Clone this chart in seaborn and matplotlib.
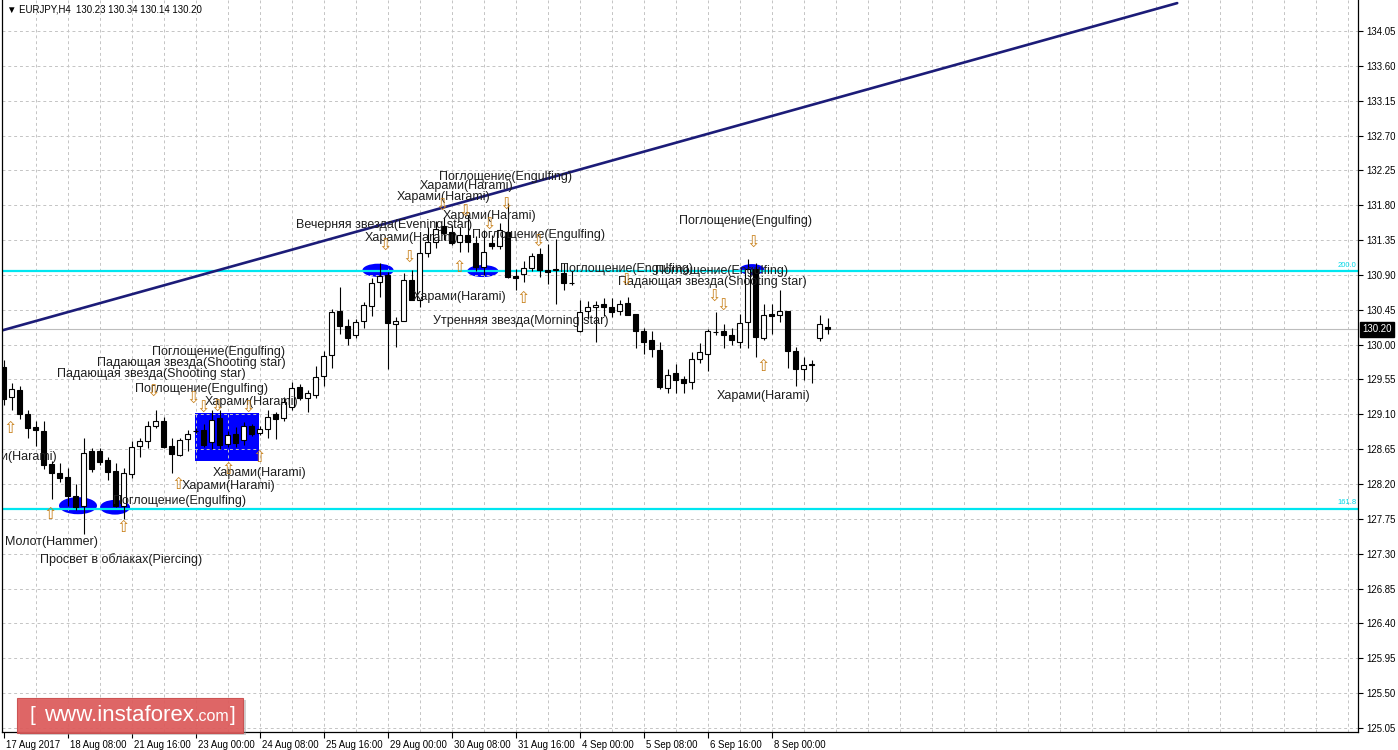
import numpy as np
import pandas as pd
import matplotlib
matplotlib.use("Agg")
import matplotlib.pyplot as plt
import matplotlib.transforms as mtransforms
from matplotlib.patches import Ellipse, Rectangle, FancyBboxPatch
import seaborn as sns

# ---------------- data ----------------
opens = [129.71,129.32,129.42,129.11,128.94,128.89,128.46,128.34,128.29,128.05,
         127.91,128.62,128.63,128.51,128.37,127.91,128.33,128.69,128.75,128.95,
         129.01,128.69,128.58,128.78,128.89,128.90,128.74,129.05,128.72,128.85,
         128.77,128.95,128.86,128.91,129.10,129.05,129.20,129.45,129.31,129.35,
         129.60,129.86,130.43,130.24,130.13,130.31,130.50,130.81,130.90,130.27,
         130.31,130.83,130.57,131.18,131.33,131.53,131.45,131.32,131.42,131.31,
         131.00,131.31,131.27,131.46,130.88,130.91,130.99,131.17,130.97,130.96,
         130.92,130.80,130.17,130.44,130.49,130.52,130.48,130.44,130.54,130.39,
         130.18,130.06,129.93,129.44,129.63,129.55,129.52,129.82,129.88,130.16,
         130.18,130.13,130.03,130.29,130.98,130.09,130.39,130.38,130.44,129.92,
         129.69,129.74,130.09,130.23]
highs = [129.80,129.50,129.47,129.15,129.02,129.02,128.50,128.47,128.41,128.20,
         128.80,128.67,128.66,128.55,128.47,128.41,128.75,128.80,129.02,129.15,
         129.06,128.80,128.80,128.90,128.92,128.98,129.16,129.16,128.88,128.93,
         129.00,128.98,128.95,129.16,129.13,129.33,129.52,129.49,129.41,129.72,
         129.92,130.46,130.75,130.33,130.33,130.55,130.86,131.05,130.94,130.36,
         130.92,130.96,131.35,131.52,131.59,131.65,131.55,131.52,131.67,131.40,
         131.48,131.42,131.57,131.83,130.98,131.08,131.18,131.25,131.30,131.37,
         131.05,130.95,130.57,130.56,130.56,130.60,130.60,130.57,130.61,130.40,
         130.22,130.17,130.04,129.68,129.75,129.60,129.91,130.02,130.20,130.42,
         130.27,130.21,130.40,131.10,131.06,130.53,130.53,130.70,130.44,129.97,
         129.84,129.80,130.38,130.34]
lows = [129.22,129.15,129.04,128.80,128.69,128.40,128.01,128.22,127.92,127.87,
        127.56,128.35,128.45,128.25,127.90,127.75,128.28,128.55,128.66,128.92,
        128.66,128.34,128.56,128.62,128.86,128.68,128.65,128.65,128.68,128.68,
        128.70,128.82,128.83,128.80,128.78,129.01,129.16,129.29,129.13,129.31,
        129.47,129.70,130.14,130.00,130.08,130.22,130.37,130.62,129.69,129.97,
        130.31,130.57,130.48,131.13,131.25,131.35,131.28,131.20,131.20,130.95,
        130.90,131.23,131.23,130.86,130.71,130.81,130.95,130.87,130.78,130.53,
        130.70,130.77,130.16,130.33,130.04,130.37,130.36,130.38,130.38,129.95,
        129.88,129.84,129.43,129.38,129.37,129.37,129.43,129.76,129.66,130.12,
        129.96,129.99,129.96,129.95,129.84,130.06,130.14,130.29,129.70,129.46,
        129.54,129.50,130.05,130.14]
closes = [129.30,129.43,129.10,128.92,128.90,128.45,128.34,128.28,128.05,127.90,
          128.60,128.40,128.48,128.35,127.91,128.34,128.68,128.75,128.95,129.02,
          128.68,128.59,128.77,128.85,128.88,128.71,129.03,128.70,128.83,128.73,
          128.95,128.85,128.91,129.07,129.04,129.26,129.44,129.31,129.37,129.58,
          129.85,130.42,130.24,130.08,130.29,130.51,130.80,130.88,130.28,130.31,
          130.84,130.58,131.18,131.33,131.49,131.44,131.31,131.42,131.32,131.00,
          131.20,131.27,131.48,130.87,130.86,130.99,131.15,130.97,130.94,130.98,
          130.79,130.79,130.42,130.49,130.51,130.49,130.42,130.53,130.38,130.18,
          130.03,129.94,129.45,129.61,129.54,129.50,129.82,129.91,130.17,130.16,
          130.13,130.06,130.28,130.98,130.10,130.38,130.37,130.44,129.92,129.69,
          129.74,129.74,130.26,130.20]

x_tick_bars = [0, 8, 16, 24, 32, 40, 48, 56, 64, 72, 80, 88, 96]
x_tick_labels = ['17 Aug 2017', '18 Aug 08:00', '21 Aug 16:00', '23 Aug 00:00',
                 '24 Aug 08:00', '25 Aug 16:00', '29 Aug 00:00', '30 Aug 08:00',
                 '31 Aug 16:00', '4 Sep 00:00', '5 Sep 08:00', '6 Sep 16:00',
                 '8 Sep 00:00']
price_ticks = [125.05, 125.50, 125.95, 126.40, 126.85, 127.30, 127.75, 128.20,
               128.65, 129.10, 129.55, 130.00, 130.45, 130.90, 131.35, 131.80,
               132.25, 132.70, 133.15, 133.60, 134.05]

header = "\u25BC EURJPY,H4  130.23 130.34 130.14 130.20"
last_price = 130.20
fib_levels = [130.95, 127.88]
fib_names = ['200.0', '161.8']
trend_bars = [-0.45, 146.7]
trend_prices = [130.176, 134.41]

# pattern labels: (bar, price, text)
pattern_labels = [
    (54.4, 132.16, 'Поглощение(Engulfing)'),
    (52.05, 132.05, 'Харами(Harami)'),
    (49.2, 131.91, 'Харами(Harami)'),
    (54.9, 131.66, 'Харами(Harami)'),
    (36.55, 131.545, 'Вечерняя звезда(Evening star)'),
    (45.2, 131.38, 'Харами(Harami)'),
    (58.55, 131.42, 'Поглощение(Engulfing)'),
    (84.4, 131.60, 'Поглощение(Engulfing)'),
    (69.55, 130.98, 'Поглощение(Engulfing)'),
    (81.4, 130.95, 'Поглощение(Engulfing)'),
    (76.8, 130.81, 'Падающая звезда(Shooting star)'),
    (51.2, 130.615, 'Харами(Harami)'),
    (53.7, 130.305, 'Утренняя звезда(Morning star)'),
    (89.2, 129.34, 'Харами(Harami)'),
    (18.55, 129.905, 'Поглощение(Engulfing)'),
    (11.7, 129.76, 'Падающая звезда(Shooting star)'),
    (6.68, 129.62, 'Падающая звезда(Shooting star)'),
    (16.43, 129.43, 'Поглощение(Engulfing)'),
    (25.18, 129.26, 'Харами(Harami)'),
    (-4.95, 128.55, 'Харами(Harami)'),
    (26.18, 128.34, 'Харами(Harami)'),
    (22.3, 128.17, 'Харами(Harami)'),
    (13.7, 127.98, 'Поглощение(Engulfing)'),
    (0.18, 127.45, 'Молот(Hammer)'),
    (4.55, 127.23, 'Просвет в облаках(Piercing)'),
]
up_arrow_bars = [0.8, 5.8, 14.9, 21.8, 28.05, 31.9, 56.9, 64.9, 94.9]
up_arrow_prices = [128.92, 127.81, 127.645, 128.19, 128.39, 128.54, 131.00, 130.60, 129.72]
down_arrow_bars = [18.7, 23.7, 24.9, 26.7, 30.55, 47.7, 50.7, 54.8, 57.7, 60.7, 62.8,
                   66.8, 77.8, 88.8, 89.9, 93.7]
down_arrow_prices = [129.39, 129.30, 129.18, 129.19, 129.18, 131.27, 131.12, 131.78,
                     131.71, 131.545, 131.80, 131.325, 130.82, 130.615, 130.49, 131.31]

# highlight ellipses: (bar, price, width_bars, height_price)
ellipse_bars = [9.3, 13.93, 46.8, 59.9, 93.55]
ellipse_prices = [127.92, 127.90, 130.96, 130.95, 130.97]
ellipse_w = [4.75, 3.75, 3.9, 3.9, 3.1]
ellipse_h = [0.22, 0.19, 0.17, 0.155, 0.14]
rect_bars = [23.9, 31.9]
rect_prices = [128.50, 129.12]

# ---------------- style ----------------
sns.set_theme(style="white")
plt.rcParams['font.family'] = ['Liberation Sans', 'DejaVu Sans']

W, H = 1398, 750
fig = plt.figure(figsize=(W / 100, H / 100), dpi=100)
fig.patch.set_facecolor('white')
ax = fig.add_axes([2 / W, 18 / H, 1356 / W, 732 / H])
ax.set_facecolor('white')
ax.set_xlim(-0.2, 169.3)
ax.set_ylim(124.998, 134.45)

df = pd.DataFrame({'bar': np.arange(len(opens)), 'open': opens, 'high': highs,
                   'low': lows, 'close': closes})

grid_kw = dict(color='#c4c4c4', lw=0.7, dashes=(3, 3), zorder=1)
for p in price_ticks:
    ax.axhline(p, **grid_kw)
for b in range(4, 170, 4):
    ax.axvline(b, **grid_kw)

# highlight shapes
ax.add_patch(Rectangle((rect_bars[0], rect_prices[0]), rect_bars[1] - rect_bars[0],
                       rect_prices[1] - rect_prices[0], facecolor='#0000ff',
                       edgecolor='none', zorder=0.8))
for b, p, w, h in zip(ellipse_bars, ellipse_prices, ellipse_w, ellipse_h):
    ax.add_patch(Ellipse((b, p), w, h, facecolor='#0000ff', edgecolor='none', zorder=0.8))

# fib levels & price line
for lv, nm in zip(fib_levels, fib_names):
    ax.axhline(lv, color='#00e6f0', lw=1.6, zorder=2)
    ax.text(169.1, lv + 0.03, nm, color='#00d8e8', fontsize=5.5, ha='right',
            va='bottom', zorder=2)
ax.axhline(last_price, color='#bdbdbd', lw=0.8, zorder=1.5)

# trend line
sns.lineplot(x=trend_bars, y=trend_prices, ax=ax, color='#1c1c78', lw=1.9, zorder=2.5)

# candles
ax.vlines(df['bar'], df['low'], df['high'], color='black', lw=0.8, zorder=3)
bull = df['close'] >= df['open']
body_bottom = np.minimum(df['open'], df['close'])
body_h = np.maximum((df['close'] - df['open']).abs(), 0.004)
ax.bar(df['bar'][bull], body_h[bull], bottom=body_bottom[bull], width=0.62,
       color='white', edgecolor='black', linewidth=0.8, zorder=4)
ax.bar(df['bar'][~bull], body_h[~bull], bottom=body_bottom[~bull], width=0.62,
       color='black', edgecolor='black', linewidth=0.8, zorder=4)

# pattern labels
for b, p, t in pattern_labels:
    ax.text(b, p, t, fontsize=9, color='#1e1e1e', ha='left', va='center',
            zorder=6, clip_on=True)
arrow_kw = dict(fontsize=11.5, color='#c8801a', ha='center', va='center',
                family=['DejaVu Sans'], zorder=6)
for b, p in zip(up_arrow_bars, up_arrow_prices):
    ax.text(b, p, '\u21E7', **arrow_kw)
for b, p in zip(down_arrow_bars, down_arrow_prices):
    ax.text(b, p, '\u21E9', **arrow_kw)

# header
ax.text(5 / 1356, 1 - 10 / 732, header, transform=ax.transAxes, fontsize=6.9,
        color='black', ha='left', va='center', zorder=7)

# axes
for s in ['left', 'bottom', 'right']:
    ax.spines[s].set_visible(True)
    ax.spines[s].set_color('black')
    ax.spines[s].set_linewidth(0.9)
ax.spines['top'].set_visible(False)
ax.yaxis.tick_right()
ax.set_yticks(price_ticks)
ax.set_yticklabels([f'{p:.2f}' for p in price_ticks])
ax.tick_params(axis='y', direction='out', length=3.5, width=0.8, color='black',
               labelsize=6.9, pad=2.5, labelcolor='black', right=True, left=False)
ax.set_xticks(x_tick_bars)
ax.set_xticklabels(x_tick_labels, ha='left')
ax.tick_params(axis='x', direction='out', length=4, width=0.8, color='black',
               labelsize=6.9, pad=1.5, labelcolor='black', bottom=True)
for lbl in ax.get_xticklabels():
    lbl.set_transform(lbl.get_transform() + mtransforms.ScaledTranslation(2 / 100, 0, fig.dpi_scale_trans))
ax.grid(False)

# last price box
trans = mtransforms.blended_transform_factory(ax.transAxes, ax.transData)
ax.text(1 + 4 / 1356, last_price, f'{last_price:.2f}', transform=trans, fontsize=6.9,
        color='white', ha='left', va='center', clip_on=False, zorder=8,
        bbox=dict(boxstyle='square,pad=0.25', facecolor='black', edgecolor='black'))

# watermark
fig.patches.append(FancyBboxPatch((20 / W, (750 - 735) / H), 226 / W, 35 / H,
                                  boxstyle='square,pad=0', transform=fig.transFigure,
                                  facecolor='#9a9a9a', edgecolor='none', alpha=0.45, zorder=9))
fig.patches.append(FancyBboxPatch((17 / W, (750 - 733) / H), 226 / W, 35 / H,
                                  boxstyle='square,pad=0', transform=fig.transFigure,
                                  facecolor='#e05a5a', edgecolor='#c84a4a', lw=0.8,
                                  alpha=0.9, zorder=10))
wy = (750 - 721) / H
fig.text(29 / W, wy, '[', color='white', fontsize=15, ha='left', va='baseline', zorder=11)
t_main = fig.text(44 / W, wy, 'www.instaforex', color='white', fontsize=16, ha='left',
                  va='baseline', zorder=11)
fig.canvas.draw()
ext = t_main.get_window_extent(renderer=fig.canvas.get_renderer())
fig.text(ext.x1 / W + 1 / W, wy, '.com', color='white', fontsize=11.5, ha='left',
         va='baseline', zorder=11)
fig.text(230 / W, wy, ']', color='white', fontsize=15, ha='left', va='baseline', zorder=11)

fig.savefig('out.png', dpi=100, facecolor='white')
